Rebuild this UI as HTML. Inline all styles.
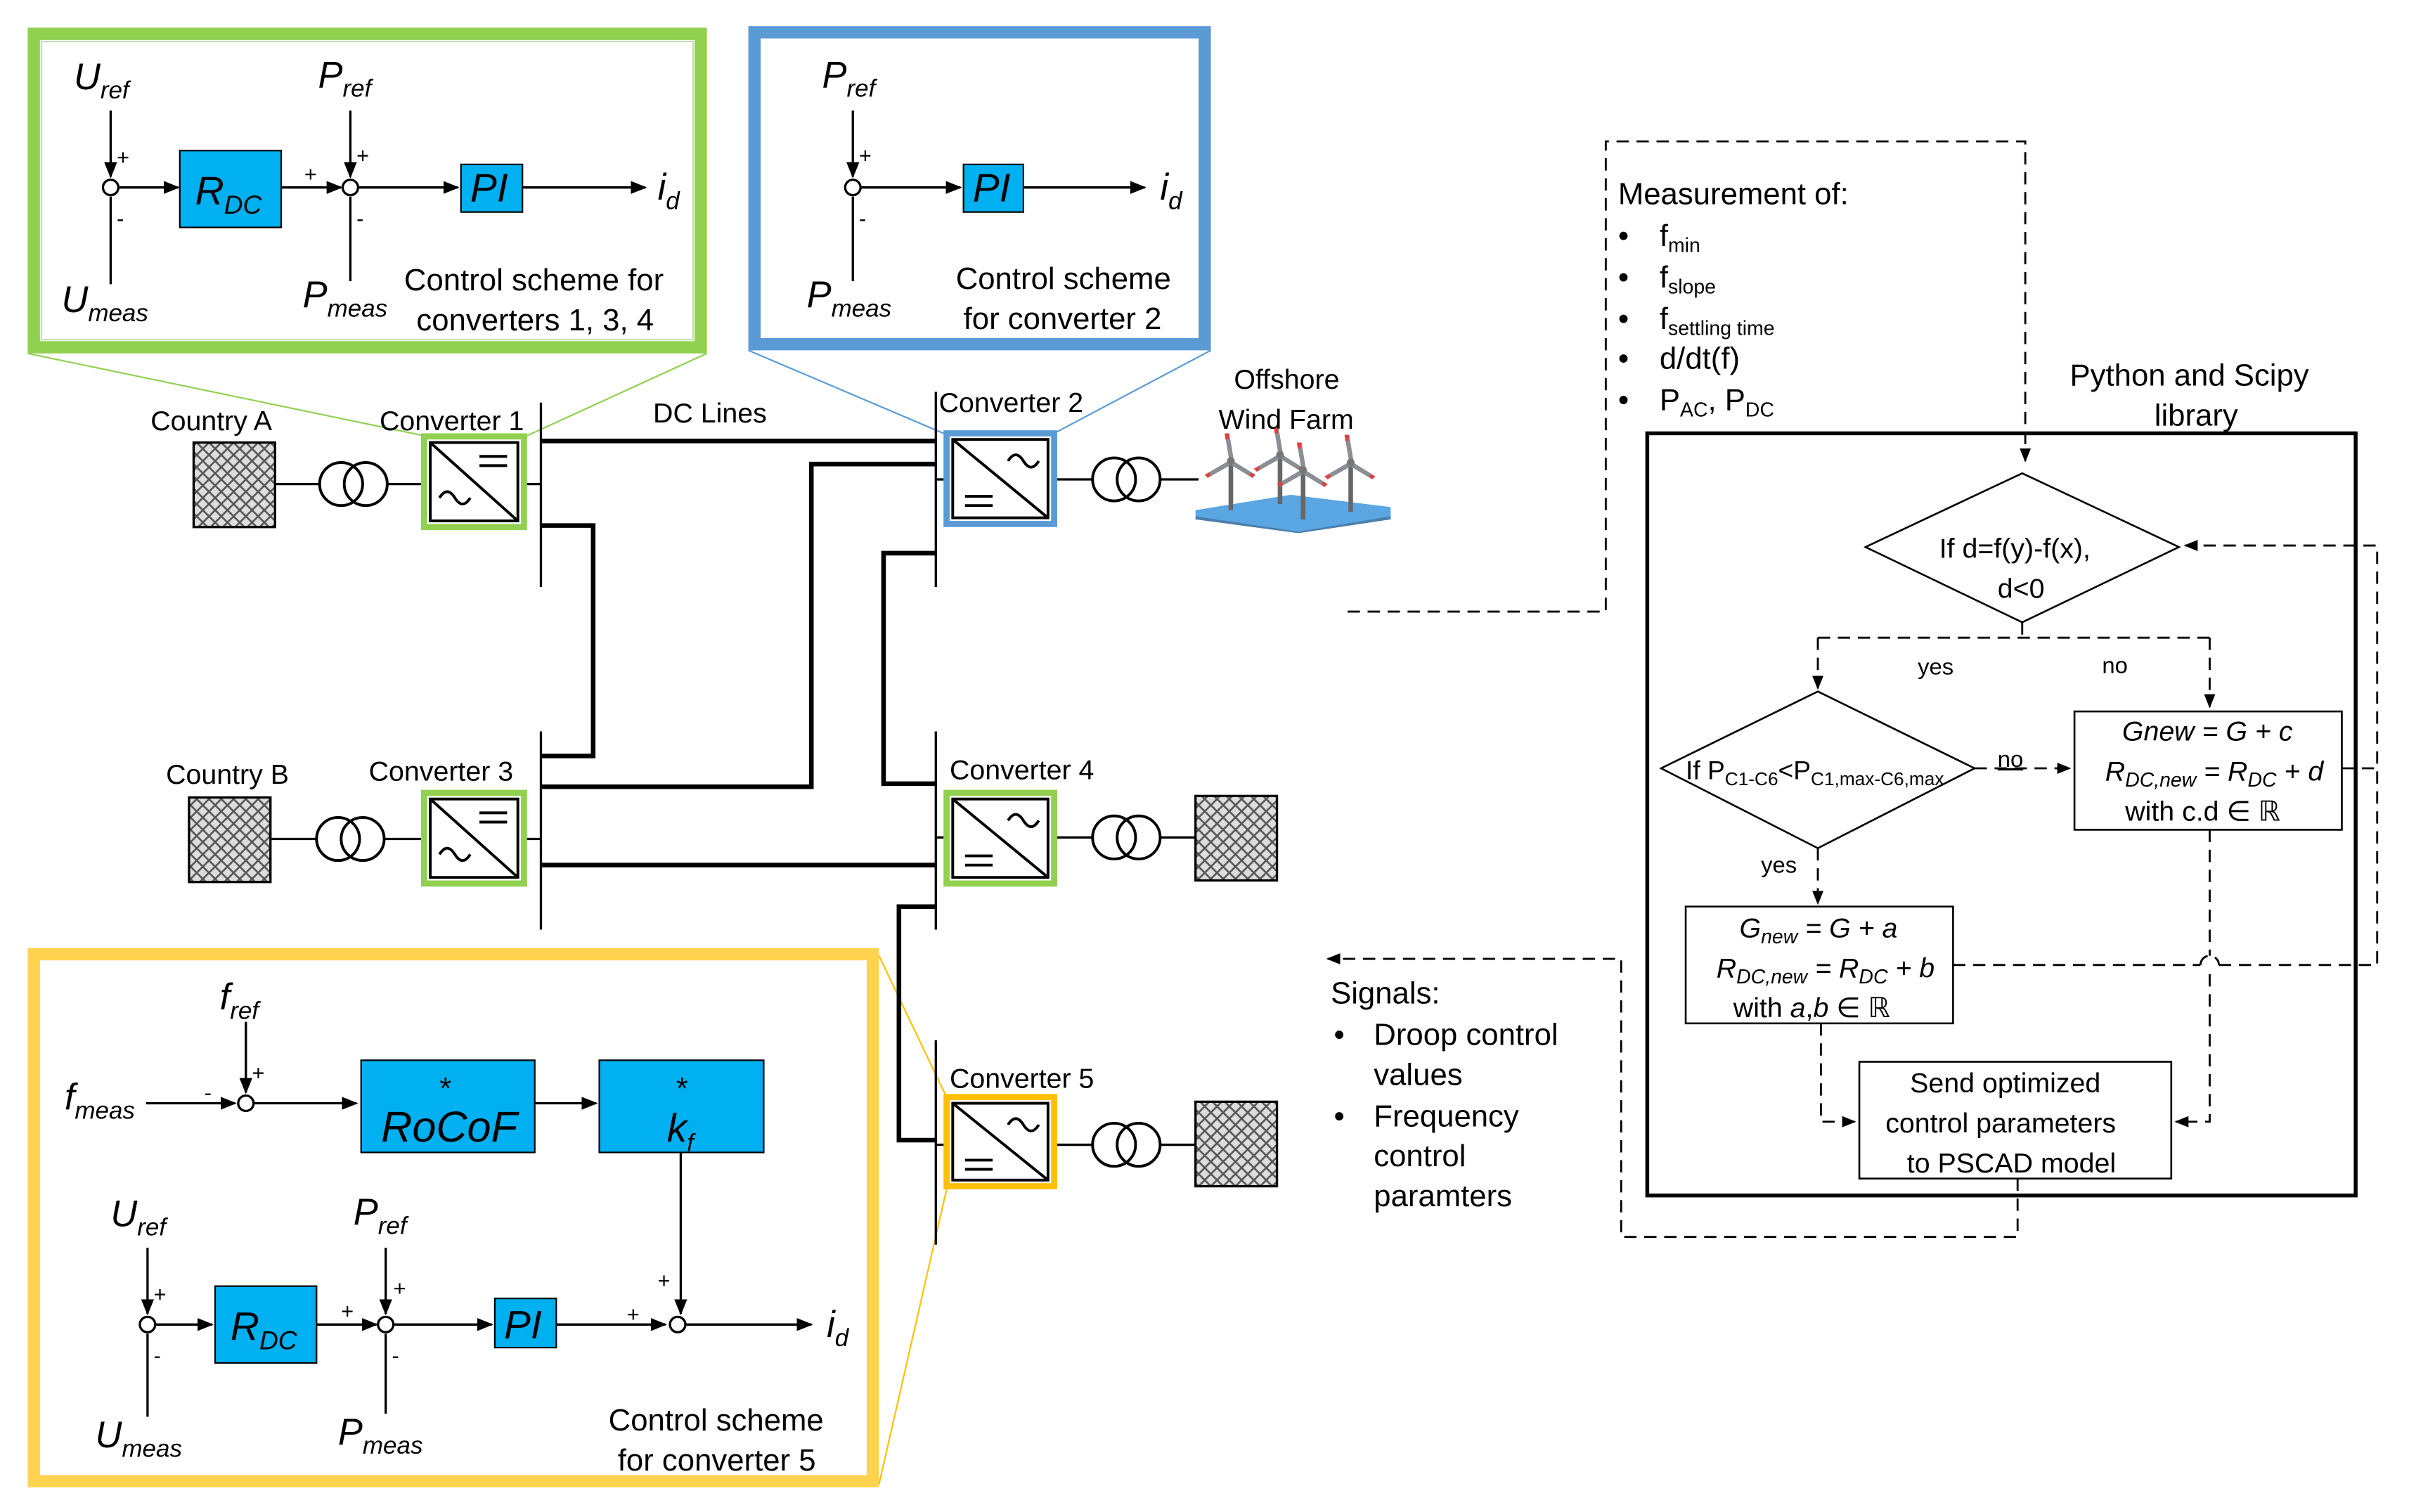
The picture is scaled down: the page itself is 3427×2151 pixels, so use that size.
<!DOCTYPE html>
<html><head><meta charset="utf-8"><style>html,body{margin:0;padding:0;background:#fff}svg{display:block}text{font-family:"Liberation Sans",sans-serif;fill:#000}.it{font-style:italic}</style></head><body>
<svg width="3427" height="2151" viewBox="0 0 1567.7 984" xmlns="http://www.w3.org/2000/svg">
<defs>
<marker id="a" viewBox="0 0 10 10" refX="9" refY="5" markerWidth="7" markerHeight="7" orient="auto-start-reverse"><path d="M0,1 L10,5 L0,9 z" fill="#000"/></marker>
<pattern id="h" width="8" height="8" patternUnits="userSpaceOnUse"><rect width="8" height="8" fill="#ddd"/><path d="M0,0 L8,8 M8,0 L0,8" stroke="#555" stroke-width="1.2"/></pattern>
<g id="tb"><line x1="0" y1="0" x2="0" y2="32" stroke="#666" stroke-width="3"/><path d="M-1,0 L-4,-18 L-1,-18 L2,0 Z M0,-1 L-17,9 L-15,11 L1,2 Z M0,-1 L16,9 L14,11 L-1,2 Z" fill="#8a8f96"/><path d="M-4,-18 L-1,-18 L-1.5,-14 L-3.5,-14 Z M-17,9 L-15,11 L-13,9 L-14,7.5 Z M16,9 L14,11 L12,9 L13,7.5 Z" fill="#e04040"/><circle r="2.5" fill="#777"/></g>
</defs>
<rect width="1567.7" height="984" fill="#fff"/>

<!-- green box -->
<rect x="22" y="22" width="434" height="204" fill="#fff" stroke="#92d050" stroke-width="8"/>
<rect x="27" y="27" width="424" height="194" fill="none" stroke="#c5e0b4" stroke-width="1"/>
<g stroke="#000" stroke-width="1.5" fill="none">
<line x1="72" y1="72" x2="72" y2="115" marker-end="url(#a)"/>
<line x1="72" y1="185" x2="72" y2="128"/>
<line x1="77" y1="122" x2="116" y2="122" marker-end="url(#a)"/>
<line x1="183" y1="122" x2="222" y2="122" marker-end="url(#a)"/>
<line x1="228" y1="72" x2="228" y2="115" marker-end="url(#a)"/>
<line x1="228" y1="183" x2="228" y2="128"/>
<line x1="233" y1="122" x2="298" y2="122" marker-end="url(#a)"/>
<line x1="340" y1="122" x2="420" y2="122" marker-end="url(#a)"/>
<circle cx="72" cy="122" r="5" fill="#fff"/><circle cx="228" cy="122" r="5" fill="#fff"/>
</g>
<rect x="117" y="98" width="66" height="50" fill="#00b0f0" stroke="#000" stroke-width="1"/>
<rect x="300" y="107" width="40" height="31" fill="#00b0f0" stroke="#000" stroke-width="1"/>
<text x="127" y="133" font-size="26" class="it">R<tspan font-size="17" dy="6">DC</tspan></text>
<text x="306" y="131" font-size="26" class="it">PI</text>
<text x="48" y="58" font-size="24" class="it">U<tspan font-size="16" dy="6">ref</tspan></text>
<text x="40" y="203" font-size="24" class="it">U<tspan font-size="16" dy="6">meas</tspan></text>
<text x="207" y="57" font-size="24" class="it">P<tspan font-size="16" dy="6">ref</tspan></text>
<text x="197" y="200" font-size="24" class="it">P<tspan font-size="16" dy="6">meas</tspan></text>
<text x="428" y="130" font-size="24" class="it">i<tspan font-size="16" dy="6">d</tspan></text>
<text x="76" y="107" font-size="14">+</text><text x="76" y="147" font-size="14">-</text>
<text x="198" y="118" font-size="14">+</text><text x="232" y="106" font-size="14">+</text><text x="232" y="147" font-size="14">-</text>
<text x="263" y="189" font-size="20">Control scheme for</text>
<text x="271" y="215" font-size="20">converters 1, 3, 4</text>

<!-- blue box -->
<rect x="491" y="21" width="293" height="203" fill="#fff" stroke="#5b9bd5" stroke-width="8"/>
<g stroke="#000" stroke-width="1.5" fill="none">
<line x1="555" y1="72" x2="555" y2="115" marker-end="url(#a)"/>
<line x1="555" y1="183" x2="555" y2="128"/>
<line x1="560" y1="122" x2="625" y2="122" marker-end="url(#a)"/>
<line x1="666" y1="122" x2="745" y2="122" marker-end="url(#a)"/>
<circle cx="555" cy="122" r="5" fill="#fff"/>
</g>
<rect x="627" y="107" width="39" height="31" fill="#00b0f0" stroke="#000" stroke-width="1"/>
<text x="633" y="131" font-size="26" class="it">PI</text>
<text x="535" y="57" font-size="24" class="it">P<tspan font-size="16" dy="6">ref</tspan></text>
<text x="525" y="200" font-size="24" class="it">P<tspan font-size="16" dy="6">meas</tspan></text>
<text x="755" y="130" font-size="24" class="it">i<tspan font-size="16" dy="6">d</tspan></text>
<text x="559" y="106" font-size="14">+</text><text x="559" y="147" font-size="14">-</text>
<text x="622" y="188" font-size="20">Control scheme</text>
<text x="627" y="214" font-size="20">for converter 2</text>

<!-- yellow box -->
<rect x="22" y="621" width="546" height="343" fill="#fff" stroke="#ffd34d" stroke-width="8"/>
<g stroke="#000" stroke-width="1.5" fill="none">
<line x1="160" y1="665" x2="160" y2="711" marker-end="url(#a)"/>
<line x1="95" y1="718" x2="153" y2="718" marker-end="url(#a)"/>
<line x1="165" y1="718" x2="232" y2="718" marker-end="url(#a)"/>
<line x1="348" y1="718" x2="388" y2="718" marker-end="url(#a)"/>
<line x1="443" y1="750" x2="443" y2="855" marker-end="url(#a)"/>
<line x1="96" y1="812" x2="96" y2="855" marker-end="url(#a)"/>
<line x1="96" y1="922" x2="96" y2="868"/>
<line x1="101" y1="862" x2="138" y2="862" marker-end="url(#a)"/>
<line x1="206" y1="862" x2="245" y2="862" marker-end="url(#a)"/>
<line x1="251" y1="812" x2="251" y2="855" marker-end="url(#a)"/>
<line x1="251" y1="920" x2="251" y2="868"/>
<line x1="256" y1="862" x2="320" y2="862" marker-end="url(#a)"/>
<line x1="362" y1="862" x2="433" y2="862" marker-end="url(#a)"/>
<line x1="446" y1="862" x2="528" y2="862" marker-end="url(#a)"/>
<circle cx="160" cy="718" r="5" fill="#fff"/><circle cx="96" cy="862" r="5" fill="#fff"/><circle cx="251" cy="862" r="5" fill="#fff"/><circle cx="441" cy="862" r="5" fill="#fff"/>
</g>
<rect x="235" y="690" width="113" height="60" fill="#00b0f0" stroke="#000" stroke-width="1"/>
<rect x="390" y="690" width="107" height="60" fill="#00b0f0" stroke="#000" stroke-width="1"/>
<rect x="140" y="837" width="66" height="50" fill="#00b0f0" stroke="#000" stroke-width="1"/>
<rect x="322" y="845" width="40" height="32" fill="#00b0f0" stroke="#000" stroke-width="1"/>
<text x="286" y="715" font-size="20">*</text><text x="248" y="743" font-size="28" class="it">RoCoF</text>
<text x="440" y="715" font-size="20">*</text><text x="434" y="743" font-size="26" class="it">k<tspan font-size="16" dy="6">f</tspan></text>
<text x="150" y="872" font-size="26" class="it">R<tspan font-size="17" dy="6">DC</tspan></text>
<text x="328" y="871" font-size="26" class="it">PI</text>
<text x="143" y="657" font-size="24" class="it">f<tspan font-size="16" dy="6">ref</tspan></text>
<text x="42" y="722" font-size="24" class="it">f<tspan font-size="16" dy="6">meas</tspan></text>
<text x="72" y="798" font-size="24" class="it">U<tspan font-size="16" dy="6">ref</tspan></text>
<text x="62" y="942" font-size="24" class="it">U<tspan font-size="16" dy="6">meas</tspan></text>
<text x="230" y="797" font-size="24" class="it">P<tspan font-size="16" dy="6">ref</tspan></text>
<text x="220" y="940" font-size="24" class="it">P<tspan font-size="16" dy="6">meas</tspan></text>
<text x="538" y="870" font-size="24" class="it">i<tspan font-size="16" dy="6">d</tspan></text>
<text x="164" y="703" font-size="14">+</text><text x="133" y="716" font-size="14">-</text>
<text x="428" y="838" font-size="14">+</text><text x="408" y="860" font-size="14">+</text>
<text x="100" y="847" font-size="14">+</text><text x="100" y="887" font-size="14">-</text>
<text x="222" y="858" font-size="14">+</text><text x="256" y="843" font-size="14">+</text><text x="255" y="887" font-size="14">-</text>
<text x="396" y="931" font-size="20">Control scheme</text>
<text x="402" y="957" font-size="20">for converter 5</text>

<!-- zoom lines -->
<g stroke-width="1">
<line x1="18" y1="230" x2="278" y2="284" stroke="#92d050"/>
<line x1="460" y1="230" x2="342" y2="284" stroke="#92d050"/>
<line x1="487" y1="228" x2="614" y2="282" stroke="#5b9bd5"/>
<line x1="788" y1="228" x2="686" y2="282" stroke="#5b9bd5"/>
<line x1="572" y1="622" x2="616" y2="714" stroke="#ffc000"/>
<line x1="572" y1="966" x2="616" y2="774" stroke="#ffc000"/>
</g>

<!-- DC network -->
<g stroke="#000" stroke-width="3" fill="none">
<polyline points="352,287 609,287"/>
<polyline points="352,342 386,342 386,492 352,492"/>
<polyline points="352,512 528,512 528,302 609,302"/>
<polyline points="609,360 575,360 575,510 609,510"/>
<polyline points="352,563 609,563"/>
<polyline points="609,590 585,590 585,742 609,742"/>
</g>
<g stroke="#000" stroke-width="1.5">
<line x1="352" y1="262" x2="352" y2="382"/><line x1="352" y1="476" x2="352" y2="605"/>
<line x1="609" y1="255" x2="609" y2="382"/><line x1="609" y1="476" x2="609" y2="605"/><line x1="609" y1="677" x2="609" y2="810"/>
<line x1="179" y1="315" x2="208" y2="315"/><line x1="252" y1="315" x2="276" y2="315"/><line x1="341" y1="315" x2="352" y2="315"/>
<line x1="176" y1="546" x2="206" y2="546"/><line x1="250" y1="546" x2="276" y2="546"/><line x1="341" y1="546" x2="352" y2="546"/>
<line x1="609" y1="312" x2="616" y2="312"/><line x1="686" y1="312" x2="711" y2="312"/><line x1="755" y1="312" x2="780" y2="312"/>
<line x1="609" y1="545" x2="616" y2="545"/><line x1="686" y1="545" x2="711" y2="545"/><line x1="755" y1="545" x2="778" y2="545"/>
<line x1="609" y1="745" x2="616" y2="745"/><line x1="686" y1="745" x2="711" y2="745"/><line x1="755" y1="745" x2="778" y2="745"/>
</g>
<g fill="none" stroke="#000" stroke-width="1.8">
<circle cx="222" cy="315" r="14"/><circle cx="238" cy="315" r="14"/>
<circle cx="220" cy="546" r="14"/><circle cx="236" cy="546" r="14"/>
<circle cx="725" cy="312" r="14"/><circle cx="741" cy="312" r="14"/>
<circle cx="725" cy="545" r="14"/><circle cx="741" cy="545" r="14"/>
<circle cx="725" cy="745" r="14"/><circle cx="741" cy="745" r="14"/>
</g>
<g stroke="#000" stroke-width="1.5" fill="url(#h)">
<rect x="126" y="288" width="53" height="55"/><rect x="123" y="519" width="53" height="55"/>
<rect x="778" y="518" width="53" height="55"/><rect x="778" y="717" width="53" height="55"/>
</g>
<!-- converters -->
<g stroke-width="4" fill="#fff">
<rect x="276" y="284" width="65" height="59" stroke="#92d050"/>
<rect x="276" y="516" width="65" height="59" stroke="#92d050"/>
<rect x="616" y="282" width="70" height="59" stroke="#5b9bd5"/>
<rect x="616" y="516" width="70" height="59" stroke="#92d050"/>
<rect x="616" y="714" width="70" height="58" stroke="#ffc000"/>
</g>
<g stroke="#000" stroke-width="1.8" fill="none">
<rect x="280" y="288" width="57" height="51"/><path d="M280,288 L337,339"/><path d="M312,297 h18 M312,303 h18"/><path d="M286,324 q5,-8 10,0 t10,0"/>
<rect x="280" y="520" width="57" height="51"/><path d="M280,520 L337,571"/><path d="M312,529 h18 M312,535 h18"/><path d="M286,556 q5,-8 10,0 t10,0"/>
<rect x="620" y="286" width="62" height="51"/><path d="M620,286 L682,337"/><path d="M656,300 q5,-8 10,0 t10,0"/><path d="M628,323 h18 M628,329 h18"/>
<rect x="620" y="520" width="62" height="51"/><path d="M620,520 L682,571"/><path d="M656,534 q5,-8 10,0 t10,0"/><path d="M628,557 h18 M628,563 h18"/>
<rect x="620" y="718" width="62" height="50"/><path d="M620,718 L682,768"/><path d="M656,732 q5,-8 10,0 t10,0"/><path d="M628,755 h18 M628,761 h18"/>
</g>
<!-- wind farm -->
<path d="M778,332 L840,322 L905,330 L905,338 L845,346 L778,338 Z" fill="#5aa6e3"/>
<path d="M778,336 L845,346 L905,336 L905,338 L845,347 L778,338 Z" fill="#4a7fab"/>
<use href="#tb" x="801" y="300"/><use href="#tb" x="833" y="296"/><use href="#tb" x="879" y="301"/><use href="#tb" x="848" y="306"/>

<g font-size="18">
<text x="98" y="280">Country A</text><text x="247" y="280">Converter 1</text><text x="425" y="275">DC Lines</text>
<text x="611" y="268">Converter 2</text><text x="803" y="253">Offshore</text><text x="793" y="279">Wind Farm</text>
<text x="108" y="510">Country B</text><text x="240" y="508">Converter 3</text><text x="618" y="507">Converter 4</text><text x="618" y="708">Converter 5</text>
</g>

<!-- right side flowchart -->
<g stroke="#000" stroke-width="1.3" fill="none" stroke-dasharray="8,5">
<polyline points="877,398 1045,398 1045,92 1318,92 1318,300" marker-end="url(#a)"/>
<polyline points="1316,405 1316,415"/>
<polyline points="1183,415 1438,415"/>
<polyline points="1183,415 1183,448" marker-end="url(#a)"/>
<polyline points="1438,415 1438,460" marker-end="url(#a)"/>
<polyline points="1285,500 1347,500" marker-end="url(#a)"/>
<polyline points="1183,552 1183,588" marker-end="url(#a)"/>
<polyline points="1185,666 1185,730 1207,730" marker-end="url(#a)"/>
<path d="M1438,540 L1438,622"/>
<path d="M1438,634 L1438,730 L1416,730" marker-end="url(#a)"/>
<path d="M1432,628 a6,6 0 0 1 12,0"/>
<path d="M1271,628 L1432,628"/>
<path d="M1444,628 L1547,628 L1547,355 L1422,355" marker-end="url(#a)"/>
<polyline points="1524,500 1547,500"/>
<polyline points="1313,767 1313,805 1055,805 1055,624 864,624" marker-end="url(#a)"/>
</g>
<rect x="1072" y="282" width="461" height="496" fill="none" stroke="#000" stroke-width="2.5"/>
<g stroke="#000" stroke-width="1.2" fill="#fff">
<path d="M1316,308 L1418,356 L1316,405 L1214,356 Z"/>
<path d="M1183,450 L1285,500 L1183,552 L1081,500 Z"/>
<rect x="1350" y="463" width="174" height="77"/>
<rect x="1097" y="590" width="174" height="76"/>
<rect x="1210" y="691" width="203" height="76"/>
</g>
<g font-size="18">
<text x="1262" y="363">If d=f(y)-f(x),</text><text x="1300" y="389">d&lt;0</text>
<text x="1248" y="439" font-size="15">yes</text><text x="1368" y="438" font-size="15">no</text>
<text x="1300" y="499" font-size="15" text-decoration="underline">no</text>
<text x="1146" y="568" font-size="15">yes</text>
<text x="1097" y="507" font-size="17">If P<tspan font-size="12" dy="4">C1-C6</tspan><tspan dy="-4">&lt;P</tspan><tspan font-size="12" dy="4">C1,max-C6,max</tspan></text>
<text x="1381" y="482" class="it">Gnew = G + c</text>
<text x="1370" y="508" class="it">R<tspan font-size="13" dy="4">DC,new</tspan><tspan dy="-4"> = R</tspan><tspan font-size="13" dy="4">DC</tspan><tspan dy="-4"> + d</tspan></text>
<text x="1383" y="534">with c.d ∈ ℝ</text>
<text x="1132" y="610" class="it">G<tspan font-size="13" dy="4">new</tspan><tspan dy="-4"> = G + a</tspan></text>
<text x="1117" y="636" class="it">R<tspan font-size="13" dy="4">DC,new</tspan><tspan dy="-4"> = R</tspan><tspan font-size="13" dy="4">DC</tspan><tspan dy="-4"> + b</tspan></text>
<text x="1128" y="662">with <tspan class="it">a</tspan>,<tspan class="it">b</tspan> ∈ ℝ</text>
<text x="1243" y="711">Send optimized</text><text x="1227" y="737">control parameters</text><text x="1241" y="763">to PSCAD model</text>
</g>
<g font-size="20">
<text x="1347" y="251">Python and Scipy</text><text x="1402" y="277">library</text>
<text x="1053" y="133">Measurement of:</text>
<text x="1053" y="160">•</text><text x="1080" y="160">f<tspan font-size="13" dy="4">min</tspan></text>
<text x="1053" y="187">•</text><text x="1080" y="187">f<tspan font-size="13" dy="4">slope</tspan></text>
<text x="1053" y="214">•</text><text x="1080" y="214">f<tspan font-size="13" dy="4">settling time</tspan></text>
<text x="1053" y="240">•</text><text x="1080" y="240">d/dt(f)</text>
<text x="1053" y="267">•</text><text x="1080" y="267">P<tspan font-size="13" dy="4">AC</tspan><tspan dy="-4">, P</tspan><tspan font-size="13" dy="4">DC</tspan></text>
<text x="866" y="653">Signals:</text>
<text x="868" y="680">•</text><text x="894" y="680">Droop control</text><text x="894" y="706">values</text>
<text x="868" y="733">•</text><text x="894" y="733">Frequency</text><text x="894" y="759">control</text><text x="894" y="785">paramters</text>
</g>
</svg>
</body></html>
